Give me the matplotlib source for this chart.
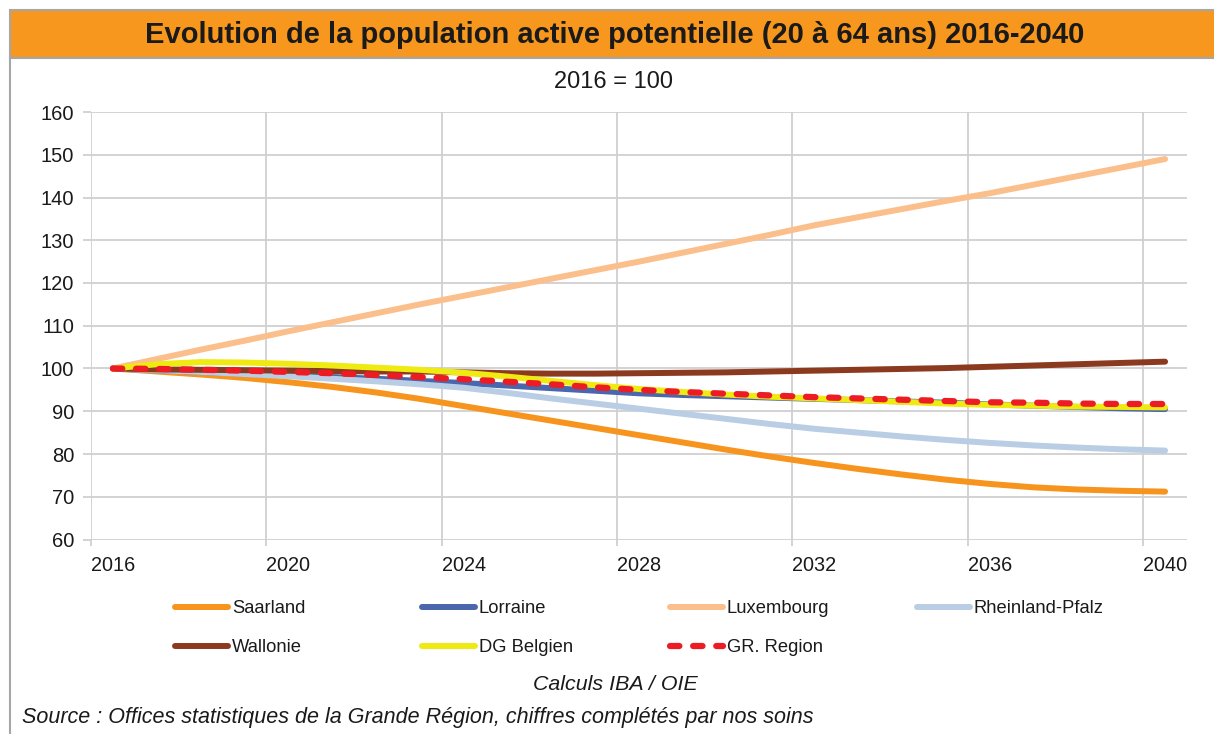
import matplotlib
matplotlib.use("Agg")
import matplotlib.pyplot as plt
from matplotlib.patches import Rectangle
from matplotlib.lines import Line2D

plt.rcParams['font.family'] = ['Liberation Sans', 'DejaVu Sans']

years = list(range(2016, 2041))

saarland = [100, 99.3, 98.6, 97.8, 96.8, 95.7, 94.4, 92.9, 91.2, 89.5, 87.8, 86.1, 84.4,
            82.7, 81.0, 79.4, 77.9, 76.5, 75.2, 74.0, 73.0, 72.2, 71.7, 71.4, 71.2]
lorraine = [100, 99.6, 99.2, 98.8, 98.4, 98.0, 97.6, 97.1, 96.6, 96.0, 95.4, 94.8, 94.2,
            93.8, 93.5, 93.2, 92.9, 92.6, 92.3, 92.0, 91.6, 91.3, 91.0, 90.7, 90.5]
luxembourg = [100, 102.2, 104.4, 106.5, 108.7, 110.8, 112.9, 115.0, 117.0, 119.0, 121.0, 123.0, 125.0,
              127.1, 129.2, 131.3, 133.5, 135.4, 137.3, 139.2, 141.0, 143.0, 145.0, 147.0, 149.0]
rheinland = [100, 99.6, 99.2, 98.7, 98.2, 97.6, 97.0, 96.3, 95.5, 94.3, 93.0, 91.8, 90.6,
             89.4, 88.2, 87.0, 85.9, 85.0, 84.1, 83.3, 82.6, 82.0, 81.5, 81.1, 80.8]
wallonie = [100, 99.8, 99.7, 99.6, 99.5, 99.4, 99.3, 99.3, 99.1, 98.9, 98.8, 98.8, 98.9,
            99.0, 99.1, 99.3, 99.5, 99.7, 99.9, 100.1, 100.4, 100.7, 101.0, 101.3, 101.6]
dg_belgien = [100, 101.0, 101.5, 101.4, 101.1, 100.7, 100.2, 99.7, 99.0, 98.1, 97.1, 96.1, 95.2,
              94.5, 93.9, 93.4, 93.0, 92.6, 92.2, 91.8, 91.5, 91.3, 91.1, 91.0, 90.9]
gr_region = [100, 99.9, 99.7, 99.5, 99.2, 98.9, 98.5, 98.0, 97.5, 96.9, 96.3, 95.6, 95.0,
             94.5, 94.1, 93.7, 93.3, 93.0, 92.7, 92.4, 92.1, 92.0, 91.8, 91.7, 91.7]

series_names = ["Saarland", "Lorraine", "Luxembourg", "Rheinland-Pfalz", "Wallonie", "DG Belgien", "GR. Region"]
series_values = [saarland, lorraine, luxembourg, rheinland, wallonie, dg_belgien, gr_region]
colors = ["#F7941D", "#4A66AC", "#FBBF8C", "#B9CDE5", "#8B3A1F", "#EEEA12", "#ED1C24"]

x_tick_labels = [2016, 2020, 2024, 2028, 2032, 2036, 2040]
y_ticks = list(range(60, 161, 10))

title = "Evolution de la population active potentielle (20 à 64 ans) 2016-2040"
subtitle = "2016 = 100"
calc_note = "Calculs IBA / OIE"
source = "Source : Offices statistiques de la Grande Région, chiffres complétés par nos soins"

W, H = 1214, 734
fig = plt.figure(figsize=(W / 100, H / 100), dpi=100)

def fx(px):
    return px / W

def fy(py):
    return 1 - py / H

gray = "#A6A6A6"
# Title bar
fig.patches.append(Rectangle((fx(10), fy(58)), 1.0, fy(10) - fy(58), transform=fig.transFigure,
                             facecolor="#F7971E", edgecolor=gray, linewidth=1.5, zorder=0))
fig.lines.append(Line2D([fx(10), fx(10)], [fy(58), 0], transform=fig.transFigure, color=gray, linewidth=1.5))
fig.text(fx(615), fy(35), title, ha="center", va="center", fontsize=21, fontweight="bold", color="#1a1a1a")
fig.text(fx(614), fy(82), subtitle, ha="center", va="center", fontsize=17, color="#1a1a1a")

ax = fig.add_axes([fx(91), fy(539.5), fx(1187) - fx(91), fy(112) - fy(539.5)])

lines = []
for name, vals, c in zip(series_names, series_values, colors):
    if name == "GR. Region":
        ln, = ax.plot(years, vals, color=c, linewidth=4.5, label=name, solid_capstyle="round",
                      dash_capstyle="round", zorder=10)
        ln.set_dashes([1.5, 2.2])
    else:
        ln, = ax.plot(years, vals, color=c, linewidth=4.3, label=name, solid_capstyle="round", zorder=5)
    lines.append(ln)

ax.set_xlim(2015.5, 2040.5)
ax.set_ylim(60, 160)
ax.set_yticks(y_ticks)
ax.set_xticks(x_tick_labels)
ax.set_xticklabels([str(v) for v in x_tick_labels])
ax.set_xticks([v - 0.5 for v in x_tick_labels], minor=True)

gridc = "#D0D0D0"
ax.grid(False)
ax.yaxis.grid(True, color=gridc, linewidth=1.3)
ax.xaxis.grid(True, which="minor", color=gridc, linewidth=1.3)
for s in ["top", "right", "left", "bottom"]:
    ax.spines[s].set_visible(False)
ax.set_axisbelow(True)

ax.tick_params(axis="x", which="major", length=0, pad=12, labelsize=14.3, labelcolor="#1a1a1a")
ax.tick_params(axis="x", which="minor", length=4.5, width=1.3, color=gridc, direction="out")
ax.tick_params(axis="y", length=6, width=1.3, color=gridc, pad=6, labelsize=14.5, labelcolor="#1a1a1a")

# Legend: four columns placed at fixed positions
col_x = [175, 422, 670, 917]
columns = [[0, 4], [1, 5], [2, 6], [3]]
for cx, idxs in zip(col_x, columns):
    leg = fig.legend([lines[i] for i in idxs], [series_names[i] for i in idxs],
                     loc="upper left", bbox_to_anchor=(fx(cx), fy(600)),
                     frameon=False, fontsize=13.2, handlelength=2.9, handletextpad=0.2,
                     labelspacing=1.2, borderpad=0, borderaxespad=0)
    for t in leg.get_texts():
        t.set_color("#1a1a1a")

fig.text(fx(615), fy(684), calc_note, ha="center", va="center", fontsize=15.4, style="italic", color="#1a1a1a")
fig.text(fx(22), fy(718), source, ha="left", va="center", fontsize=15.5, style="italic", color="#1a1a1a")

fig.savefig("out.png", dpi=100)
